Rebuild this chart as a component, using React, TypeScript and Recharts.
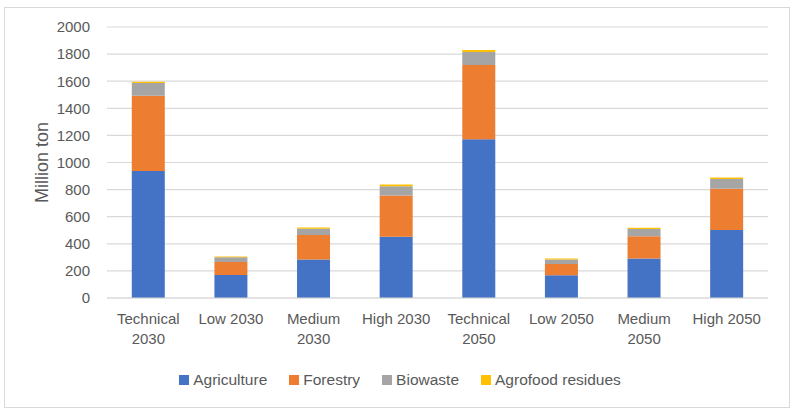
import React from "react";
import { BarChart, Bar, XAxis, YAxis, CartesianGrid, Legend } from "recharts";

const scenarios = [
  "Technical 2030",
  "Low 2030",
  "Medium 2030",
  "High 2030",
  "Technical 2050",
  "Low 2050",
  "Medium 2050",
  "High 2050",
];
const agriculture = [937, 170, 285, 452, 1171, 167, 292, 502];
const forestry = [556, 96, 180, 305, 549, 84, 163, 305];
const biowaste = [94, 34, 46, 67, 95, 34, 54, 71];
const agrofood = [9, 7, 10, 14, 15, 7, 10, 12];
const yTicks = [0, 200, 400, 600, 800, 1000, 1200, 1400, 1600, 1800, 2000];

const data = scenarios.map((name, i) => ({
  name,
  Agriculture: agriculture[i],
  Forestry: forestry[i],
  Biowaste: biowaste[i],
  "Agrofood residues": agrofood[i],
}));

const series = [
  { key: "Agriculture", color: "#4472C4" },
  { key: "Forestry", color: "#ED7D31" },
  { key: "Biowaste", color: "#A5A5A5" },
  { key: "Agrofood residues", color: "#FFC000" },
];

const font = "'Liberation Sans', Arial, sans-serif";
const textColor = "#595959";

function XTick({ x, y, payload }: any) {
  const label: string = payload.value;
  const lines = label.length > 10 ? label.split(" ") : [label];
  return (
    <text
      x={x}
      y={y}
      textAnchor="middle"
      fill={textColor}
      fontSize={15}
      fontFamily={font}
    >
      {lines.map((l, i) => (
        <tspan key={i} x={x} dy={i === 0 ? 18 : 20}>
          {l}
        </tspan>
      ))}
    </text>
  );
}

function LegendContent() {
  return (
    <div
      style={{
        display: "flex",
        justifyContent: "center",
        gap: 22,
        fontFamily: font,
        fontSize: 15.5,
        color: textColor,
        height: 20,
        alignItems: "center",
      }}
    >
      {series.map((s) => (
        <div key={s.key} style={{ display: "flex", alignItems: "center" }}>
          <span
            style={{
              display: "inline-block",
              width: 10,
              height: 10,
              background: s.color,
              marginRight: 4,
            }}
          />
          {s.key}
        </div>
      ))}
    </div>
  );
}

export default function App() {
  return (
    <div style={{ position: "absolute", left: 0, top: 0, width: 800, height: 414, background: "#fff" }}>
      <div
        style={{
          position: "absolute",
          left: 4,
          top: 7,
          width: 784,
          height: 399,
          border: "1px solid #d9d9d9",
        }}
      />
      <BarChart
        width={800}
        height={414}
        data={data}
        margin={{ top: 27, right: 32, left: 0, bottom: 46 }}
        barCategoryGap="30%"
      >
        <CartesianGrid vertical={false} stroke="#d9d9d9" strokeWidth={1.2} />
        <XAxis
          dataKey="name"
          height={50}
          axisLine={{ stroke: "#d9d9d9" }}
          tickLine={false}
          tick={<XTick />}
          interval={0}
        />
        <YAxis
          width={107}
          domain={[0, 2000]}
          ticks={yTicks}
          axisLine={false}
          tickLine={false}
          tickSize={0}
          tickMargin={17}
          tick={{ fill: textColor, fontSize: 15, fontFamily: font }}
          label={({ viewBox }: any) => (
            <text
              x={42}
              y={viewBox.y + viewBox.height / 2}
              transform={`rotate(-90, 42, ${viewBox.y + viewBox.height / 2})`}
              textAnchor="middle"
              dominantBaseline="central"
              fill={textColor}
              fontSize={18}
              fontFamily={font}
            >
              Million ton
            </text>
          )}
        />
        <Legend
          verticalAlign="bottom"
          content={<LegendContent />}
          wrapperStyle={{ top: 370, left: 0, width: 800 }}
        />
        {series.map((s) => (
          <Bar
            key={s.key}
            dataKey={s.key}
            stackId="a"
            fill={s.color}
            isAnimationActive={false}
          />
        ))}
      </BarChart>
    </div>
  );
}
